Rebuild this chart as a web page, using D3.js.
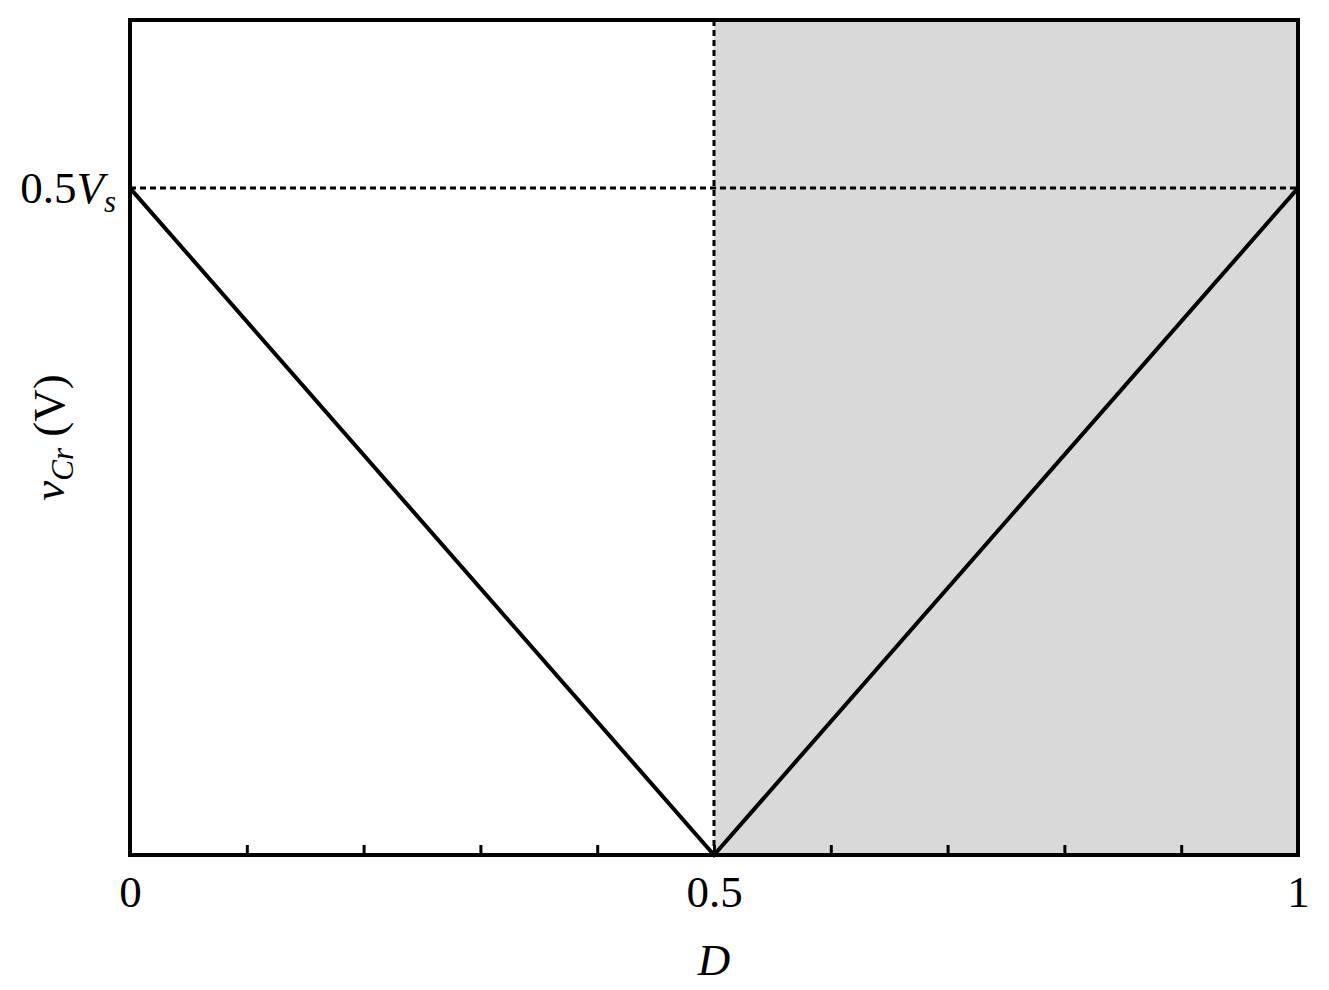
<!DOCTYPE html>
<html>
<head>
<meta charset="utf-8">
<script src="https://cdn.jsdelivr.net/npm/d3@7"></script>
<style>
  body { margin: 0; background: #fff; }
  text { font-family: "Liberation Serif", "Times New Roman", serif; fill: #000; }
</style>
</head>
<body>
<div id="chart"></div>
<script>
// data
const dutyValues = [0, 0.5, 1];
const vcrValues = [0.5, 0, 0.5];
const xTickValues = [0, 0.1, 0.2, 0.3, 0.4, 0.5, 0.6, 0.7, 0.8, 0.9, 1];
const xTickLabels = { 0: "0", 0.5: "0.5", 1: "1" };
const shadedRange = [0.5, 1];
const refX = 0.5;
const refY = 0.5;

const W = 1329, H = 990;
const margin = { top: 20, right: 31, bottom: 135, left: 130 };
const width = W - margin.left - margin.right;
const height = H - margin.top - margin.bottom;

const svg = d3.select("#chart").append("svg")
    .attr("width", W).attr("height", H);
const g = svg.append("g").attr("transform", `translate(${margin.left},${margin.top})`);

const x = d3.scaleLinear().domain([0, 1]).range([0, width]);
const y = d3.scaleLinear().domain([0, 0.626]).range([height, 0]);

// shaded region
g.append("rect")
    .attr("x", x(shadedRange[0]))
    .attr("y", 0)
    .attr("width", x(shadedRange[1]) - x(shadedRange[0]))
    .attr("height", height)
    .attr("fill", "#d9d9d9");

// dashed reference lines
g.append("line")
    .attr("x1", x(refX)).attr("x2", x(refX))
    .attr("y1", 0).attr("y2", height)
    .attr("stroke", "#000").attr("stroke-width", 3)
    .attr("stroke-dasharray", "6,4");
g.append("line")
    .attr("x1", 0).attr("x2", width)
    .attr("y1", y(refY)).attr("y2", y(refY))
    .attr("stroke", "#000").attr("stroke-width", 3)
    .attr("stroke-dasharray", "6,4");

// the V curve
const pts = dutyValues.map((d, i) => [d, vcrValues[i]]);
g.append("path")
    .datum(pts)
    .attr("d", d3.line().x(d => x(d[0])).y(d => y(d[1])))
    .attr("fill", "none")
    .attr("stroke", "#000")
    .attr("stroke-width", 4);

// x axis with inward ticks
const xAxis = d3.axisBottom(x)
    .tickValues(xTickValues)
    .tickSize(-10)
    .tickPadding(20)
    .tickFormat(d => xTickLabels[d] !== undefined ? xTickLabels[d] : "");
const xg = g.append("g").attr("transform", `translate(0,${height})`).call(xAxis);
xg.select(".domain").remove();
xg.selectAll(".tick line").attr("stroke", "#000").attr("stroke-width", 3);
xg.selectAll(".tick text")
    .style("font-family", "Liberation Serif, serif")
    .style("font-size", "45px")
    .attr("fill", "#000");

// frame
g.append("rect")
    .attr("x", 0).attr("y", 0)
    .attr("width", width).attr("height", height)
    .attr("fill", "none")
    .attr("stroke", "#000").attr("stroke-width", 4);

// y tick label 0.5Vs
const yl = g.append("text")
    .attr("x", -14).attr("y", y(refY))
    .attr("dy", "0.33em")
    .attr("text-anchor", "end")
    .style("font-size", "45px");
yl.append("tspan").text("0.5");
yl.append("tspan").style("font-style", "italic").text("V");
yl.append("tspan").style("font-style", "italic").style("font-size", "31px").attr("dy", "9").text("s");

// x label
g.append("text")
    .attr("x", x(0.5)).attr("y", height + 120)
    .attr("text-anchor", "middle")
    .style("font-size", "45px")
    .style("font-style", "italic")
    .text("D");

// y label
const ylab = svg.append("text")
    .attr("transform", `translate(64,${margin.top + y(0.313)}) rotate(-90)`)
    .attr("text-anchor", "middle")
    .style("font-size", "45px");
ylab.append("tspan").style("font-style", "italic").text("v");
ylab.append("tspan").style("font-style", "italic").style("font-size", "31px").attr("dy", "9").text("Cr");
ylab.append("tspan").attr("dy", "-9").text(" (V)");
</script>
</body>
</html>
